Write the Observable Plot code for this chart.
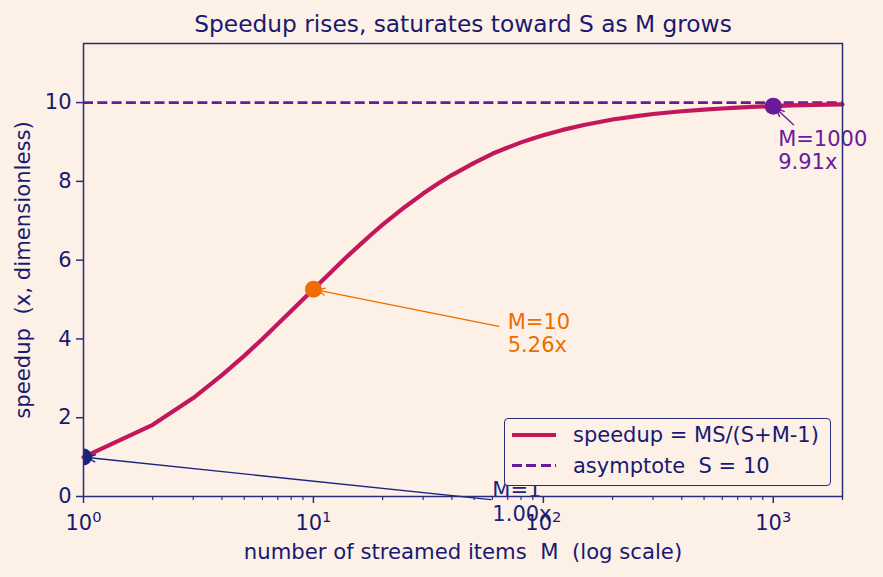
<!DOCTYPE html>
<html><head><meta charset="utf-8">
<script src="https://cdn.jsdelivr.net/npm/d3@7"></script>
<script src="https://cdn.jsdelivr.net/npm/@observablehq/plot@0.6"></script>
<style>
html,body{margin:0;padding:0;background:#fdf1e7;}
#wrap{position:relative;width:883px;height:577px;overflow:hidden;}
svg text{white-space:pre;}
#legend{position:absolute;left:504px;top:418px;width:327px;height:68px;box-sizing:border-box;border:1.5px solid #2b2b7c;border-radius:4px;background:#fdf1e7;font-family:"DejaVu Sans";font-size:21px;color:#191970;}
#legend .sw{position:absolute;left:7px;width:44px;}
#legend .lab{position:absolute;left:68px;line-height:24px;white-space:pre;}
</style></head><body><div id="wrap"></div>
<script>
// ---- data ----
const M       = [1, 2, 3, 4, 5, 6, 7, 8, 9, 10, 12, 14, 16, 18, 20, 25, 30, 35, 40, 50, 60, 70, 80, 90, 100, 120, 150, 200, 250, 300, 400, 500, 600, 700, 800, 1000, 1200, 1500, 2000];
const speedup = [1.00, 1.82, 2.50, 3.08, 3.57, 4.00, 4.38, 4.71, 5.00, 5.26, 5.71, 6.09, 6.40, 6.67, 6.90, 7.35, 7.69, 7.95, 8.16, 8.47, 8.70, 8.86, 8.99, 9.09, 9.17, 9.30, 9.43, 9.57, 9.65, 9.71, 9.78, 9.82, 9.85, 9.87, 9.89, 9.91, 9.93, 9.94, 9.955];
const S = 10;
const highlightM       = [1, 10, 1000];
const highlightSpeedup = [1.00, 5.26, 9.91];
const highlightColor   = ["#1a237e", "#ef6c00", "#6a1b9a"];
const labelM  = [60, 70, 1050];
const labelY  = [-0.13, 4.15, 8.8];
const arrowM  = [59, 64, 1225];
const arrowY  = [-0.08, 4.32, 9.44];
const xTicks = [1, 10, 100, 1000];
const xMinorTicks = [2,3,4,5,6,7,8,9,20,30,40,50,60,70,80,90,200,300,400,500,600,700,800,900,2000];
const yTicks = [0, 2, 4, 6, 8, 10];
const titleText = "Speedup rises, saturates toward S as M grows";
const xLabelText = "number of streamed items  M  (log scale)";
const yLabelText = "speedup  (x, dimensionless)";
const legendLabels = ["speedup = MS/(S+M-1)", "asymptote  S = 10"];

const textColor = "#191970";
const frameColor = "#2b2b7c";
const curveColor = "#c2185b";
const asymColor = "#6a1b9a";

const curve = M.map((m, i) => ({M: m, s: speedup[i]}));
const ann = highlightM.map((m, i) => ({
  M: m, s: highlightSpeedup[i], color: highlightColor[i],
  lx: labelM[i], ly: labelY[i], ax: arrowM[i], ay: arrowY[i],
  label: `M=${m}\n${highlightSpeedup[i].toFixed(2)}x`
}));

const chart = Plot.plot({
  width: 883, height: 577,
  marginLeft: 83, marginRight: 41, marginTop: 43, marginBottom: 81,
  style: {background: "transparent", fontFamily: "DejaVu Sans", fontSize: "21px", color: textColor, overflow: "visible"},
  x: {type: "log", domain: [1, 2000]},
  y: {domain: [0, 11.5]},
  color: {type: "identity"},
  marks: [
    Plot.ruleY([S], {stroke: asymColor, strokeWidth: 2.7, strokeDasharray: "10,4.3"}),
    Plot.line(curve, {x: "M", y: "s", stroke: curveColor, strokeWidth: 4.2}),
    Plot.arrow(ann, {x1: "ax", y1: "ay", x2: "M", y2: "s", stroke: "color", strokeWidth: 1.4, insetEnd: 4, headLength: 9, headAngle: 50}),
    Plot.dot(ann, {x: "M", y: "s", fill: "color", r: 8.5, clip: true}),
    Plot.text(ann, {x: "lx", y: "ly", text: "label", fill: "color", textAnchor: "start", lineAnchor: "middle", lineHeight: 1.1, fontSize: 21}),
    Plot.frame({stroke: frameColor, strokeWidth: 1.5}),
    Plot.axisY(yTicks, {tickSize: 7, tickPadding: 5, stroke: frameColor, strokeWidth: 1.5, fill: textColor, label: null}),
    Plot.axisX(xTicks, {tickSize: 7, tickPadding: 12, stroke: frameColor, strokeWidth: 1.5, fill: textColor, label: null, tickFormat: d => "10|" + Math.round(Math.log10(d))}),
    Plot.axisX(xMinorTicks, {tickSize: 4, stroke: frameColor, strokeWidth: 1.2, label: null, tickFormat: () => ""}),
    Plot.text([yLabelText], {frameAnchor: "left", dx: -60, rotate: -90, text: d => d, fill: textColor, textAnchor: "middle", lineAnchor: "middle", fontSize: 21.2}),
    Plot.text([xLabelText], {frameAnchor: "bottom", dy: 56, text: d => d, fill: textColor, lineAnchor: "middle", fontSize: 21.2}),
    Plot.text([titleText], {frameAnchor: "top", dy: -19, text: d => d, fill: textColor, lineAnchor: "middle", fontSize: 23.3})
  ]
});

// superscript exponents on the x tick labels
d3.select(chart).selectAll("text").each(function() {
  const t = this.textContent;
  if (/^10\|\d$/.test(t)) {
    const exp = t.split("|")[1];
    this.textContent = "10";
    const ts = document.createElementNS("http://www.w3.org/2000/svg", "tspan");
    ts.setAttribute("dy", "-8");
    ts.setAttribute("font-size", "14.7px");
    ts.textContent = exp;
    this.appendChild(ts);
  }
});

const wrap = document.getElementById("wrap");
wrap.appendChild(chart);

const legend = document.createElement("div");
legend.id = "legend";
legend.innerHTML = `
  <div class="sw" style="top:14px;height:4.2px;background:${curveColor}"></div>
  <div class="lab" style="top:4px">${legendLabels[0]}</div>
  <div class="sw" style="top:45px;height:2.7px;background:repeating-linear-gradient(90deg, ${asymColor} 0 10px, transparent 10px 14.3px)"></div>
  <div class="lab" style="top:35px">${legendLabels[1]}</div>`;
wrap.appendChild(legend);
</script>
</body></html>
